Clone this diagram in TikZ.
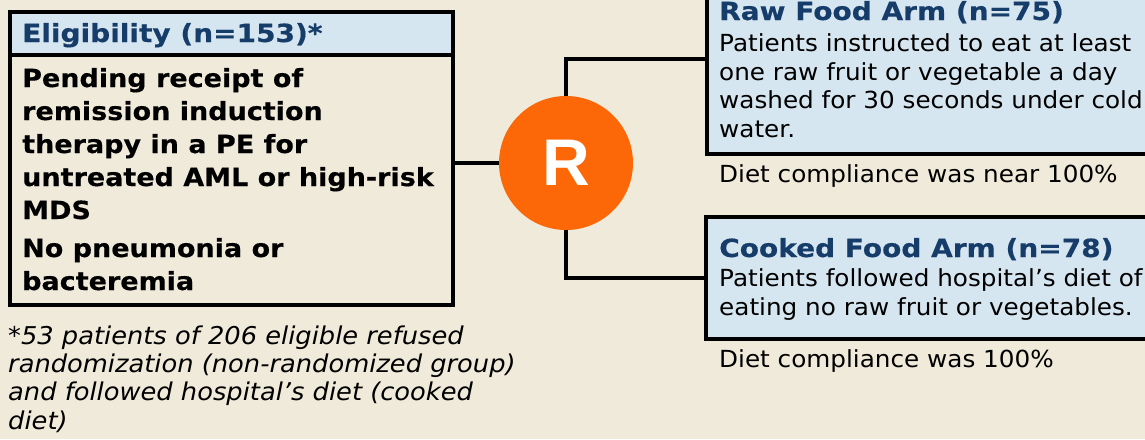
\documentclass[tikz,border=0pt]{standalone}
\usepackage{fontspec}
\setmainfont{DejaVu Sans}[FakeStretch=1.05]
\newfontfamily\wide{DejaVu Sans}[FakeStretch=1.12, BoldFeatures={FakeBold=0.4}]
\newfontfamily\critfont{DejaVu Sans}[FakeStretch=1.08, BoldFeatures={FakeBold=0.4}]
\newfontfamily\rfont{Liberation Sans}
\definecolor{bg}{RGB}{240,234,218}
\definecolor{hdr}{RGB}{214,230,240}
\definecolor{navy}{RGB}{22,60,105}
\definecolor{rorange}{RGB}{252,104,8}
\begin{document}
\begin{tikzpicture}[x=1pt,y=-1pt,
  box/.style={draw=black, line width=3.5pt, inner sep=0, anchor=north west},
  wire/.style={draw=black, line width=3.5pt},
  txt/.style={inner sep=0, anchor=base west, align=left, text=black},
  ttl/.style={txt, text=navy, font=\wide\fontsize{25}{28}\selectfont\bfseries},
  crit/.style={txt, font=\critfont\fontsize{25}{33}\selectfont\bfseries},
  body/.style={txt, font=\fontsize{23.5}{28.5}\selectfont},
]
\clip (0,0) rectangle (1145,439);
\fill[bg] (0,0) rectangle (1145,439);
% eligibility box
\fill[hdr] (8,10) rectangle (451,55);
\draw[line width=3.5pt] (8,55) -- (451,55);
\node[box, minimum width=443pt, minimum height=293pt] (elig) at (8,10) {};
% arm boxes
\node[box, fill=hdr, minimum width=455pt, minimum height=190pt] (raw) at (705,-38) {};
\node[box, fill=hdr, minimum width=456pt, minimum height=122pt] (cooked) at (704,215) {};
% randomisation
\node[circle, fill=rorange, minimum size=134pt, inner sep=0, text=white,
      font=\rfont\fontsize{66}{66}\selectfont\bfseries] (R) at (566,163) {R};
\draw[wire] (R.west) -- (R.west -| elig.east);
\draw[wire] (R.north) |- (raw.west);
\draw[wire] (R.south) |- (cooked.west);
% texts (multi-line nodes are placed by the baseline of their last line)
\node[ttl] (eligt) at (22,42) {Eligibility (n=153)*};
\node[crit] (eligb) at (22,219)
  {Pending receipt of\\remission induction\\therapy in a PE for\\untreated AML or high-risk\\MDS};
\node[crit] (eligc) at (22,290)
  {No pneumonia or\\bacteremia};
\node[ttl] (rawt) at (719,20) {Raw Food Arm (n=75)};
\node[body] (rawb) at (719,137)
  {Patients instructed to eat at least\\one raw fruit or vegetable a day\\washed for 30 seconds under cold\\water.};
\node[body] (rawc) at (719,182) {Diet compliance was near 100\%};
\node[ttl] (cookt) at (719,257) {Cooked Food Arm (n=78)};
\node[body] (cookb) at (719,315)
  {Patients followed hospital’s diet of\\eating no raw fruit or vegetables.};
\node[body] (cookc) at (719,367) {Diet compliance was 100\%};
\node[txt, font=\fontsize{24.5}{28.3}\selectfont\itshape] (foot) at (8,429)
  {*53 patients of 206 eligible refused\\randomization (non-randomized group)\\and followed hospital’s diet (cooked\\diet)};
\end{tikzpicture}
\end{document}
